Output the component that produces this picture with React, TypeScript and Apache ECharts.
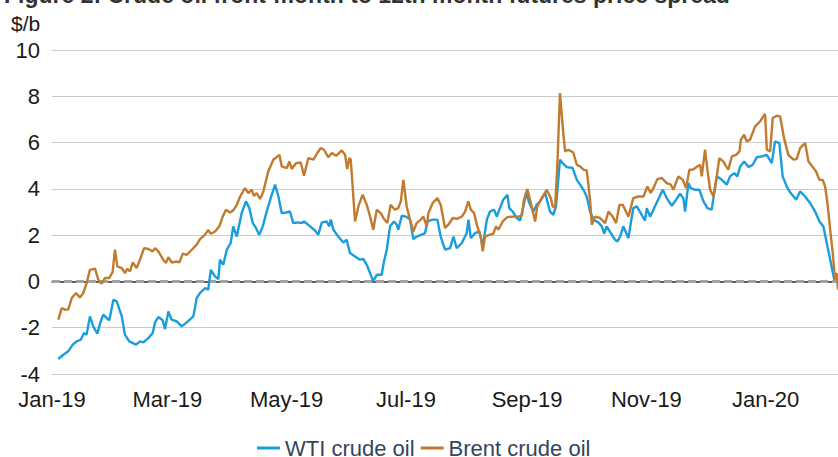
import React, { useEffect, useRef } from "react";
import * as echarts from "echarts";

// x values: days since 1 Jan 2019
const brentDay = [3.2,5.0,6.6,8.3,10.1,12.3,14.3,16.0,17.7,19.4,22.0,23.7,25.4,27.1,29.3,31.0,32.2,33.4,35.7,37.3,38.5,39.9,41.3,43.3,45.0,47.1,49.3,51.5,52.7,54.4,56.9,58.3,59.5,61.2,63.8,65.1,66.9,68.9,71.5,74.0,75.7,78.3,79.9,81.2,83.4,85.6,87.3,89.0,91.0,92.7,94.5,96.2,98.7,100.4,102.1,103.3,104.7,106.4,108.1,110.6,113.2,116.3,117.5,120.1,121.4,122.6,124.8,127.2,128.9,131.1,133.7,135.7,137.4,139.1,141.3,143.1,145.3,148.2,149.9,151.0,152.1,152.8,155.0,156.7,158.9,161.0,162.7,164.3,166.1,168.1,169.8,171.5,173.2,175.4,177.1,178.4,179.7,181.4,183.1,184.8,186.5,188.6,189.9,191.7,192.5,194.7,197.1,198.8,201.0,202.7,205.0,207.0,209.6,211.3,212.9,214.2,215.9,217.5,219.3,220.3,221.5,224.0,225.7,227.1,228.3,230.5,232.9,236.0,238.5,240.3,241.4,243.1,244.5,247.1,248.2,250.5,253.0,255.1,256.1,257.3,258.5,259.8,261.2,262.4,264.1,266.6,268.4,270.1,271.8,273.5,275.2,276.1,277.7,280.3,282.9,284.6,286.8,288.5,290.2,291.9,294.8,297.3,299.9,302.5,304.5,306.2,307.6,309.6,311.9,314.4,316.5,317.8,320.4,322.6,324.3,326.0,327.7,330.1,331.5,332.3,334.0,335.2,336.6,338.3,340.0,341.3,343.4,344.8,345.9,347.7,349.9,351.6,352.3,354.0,355.3,357.0,359.6,362.1,364.7,365.6,367.3,368.6,370.7,372.4,374.4,376.6,379.2,380.9,382.6,385.2,386.9,389.1,390.8,392.5,394.2,395.4,396.6,398.0,399.3,400.5,401.4,402.0];
const brentValue = [-1.65,-1.15,-1.22,-1.22,-0.72,-0.5,-0.7,-0.5,-0.07,0.5,0.55,0.07,-0.1,0.15,0.15,0.4,1.37,0.65,0.58,0.36,0.54,0.43,0.82,0.58,0.94,1.44,1.4,1.3,1.44,1.3,0.94,0.8,1.05,0.82,0.86,0.82,1.2,1.15,1.37,1.59,1.83,2.02,2.23,2.06,2.16,2.38,2.8,3.1,2.98,3.07,3.3,3.67,4.03,3.82,3.96,3.7,3.82,3.56,3.89,4.75,5.26,5.47,4.97,4.9,5.18,4.86,5.11,5.14,4.57,5.33,5.26,5.55,5.76,5.69,5.37,5.55,5.43,5.66,5.47,4.86,5.33,5.26,2.59,3.24,3.75,3.31,2.8,2.23,3.1,2.95,2.7,2.52,3.31,3.1,3.17,3.46,4.39,3.24,2.67,2.16,2.52,2.67,2.8,2.38,2.95,3.39,3.6,3.31,2.31,2.45,2.74,2.7,2.8,3.02,3.46,3.1,2.95,2.38,1.94,1.3,1.94,2.02,2.06,2.38,2.23,2.59,2.78,2.8,2.8,2.84,3.53,3.99,3.53,2.59,3.24,3.6,3.96,3.6,3.24,3.17,5.11,8.14,6.7,5.62,5.69,5.57,5.04,4.97,4.83,4.8,3.53,2.45,2.8,2.74,2.52,3.02,2.8,2.52,3.31,3.31,2.8,3.6,3.67,3.67,4.1,3.82,4.03,4.42,4.47,4.25,4.18,3.96,4.54,4.39,4.03,4.83,4.83,4.97,5.04,4.54,5.69,4.83,3.96,3.67,4.54,5.33,5.18,4.97,4.83,5.4,5.47,5.62,6.12,6.34,6.05,6.12,6.7,6.91,7.24,5.69,5.62,7.06,7.16,7.13,6.19,5.47,5.26,5.29,5.76,5.98,5.18,4.94,4.75,4.39,4.39,4.1,3.39,2.23,1.23,0.07,0.36,-0.36];

const wtiDay = [3.2,5.8,8.3,10.6,12.6,14.7,16.4,17.7,19.4,21.1,23.2,24.6,26.2,28.0,29.3,31.4,33.1,35.7,37.3,39.5,43.0,45.0,46.7,49.3,51.5,52.7,54.4,56.6,57.8,59.5,61.2,63.8,66.3,68.9,72.3,74.0,75.7,78.3,79.9,81.2,83.4,85.1,85.9,87.6,89.4,91.4,92.7,94.5,97.0,99.2,100.9,102.7,104.3,106.0,107.8,109.8,112.4,114.1,115.8,117.5,119.7,121.7,123.4,126.0,127.7,128.9,132.0,134.5,136.2,138.0,140.5,141.8,142.6,143.9,146.4,149.0,150.7,152.4,155.0,157.5,159.2,161.0,162.7,164.3,166.1,168.6,169.8,171.2,172.9,174.9,176.3,177.1,178.9,181.1,183.1,184.8,186.5,189.1,190.8,192.0,194.7,197.1,198.8,201.0,203.6,205.3,207.0,209.6,212.1,213.0,214.2,216.4,218.6,220.3,222.4,224.0,226.1,227.5,228.8,230.8,232.9,233.9,235.6,237.7,239.4,241.1,242.5,244.1,246.2,247.9,249.6,252.2,254.7,256.4,257.8,259.8,261.2,263.3,266.3,268.4,270.1,271.8,273.5,275.2,276.9,279.4,281.2,282.4,283.7,285.8,288.0,289.2,290.6,292.2,294.8,297.3,299.1,301.1,303.3,304.2,305.9,307.6,309.6,312.4,314.4,317.0,319.2,321.2,322.9,323.8,325.5,326.7,328.9,331.1,333.2,335.2,337.4,340.0,342.6,345.1,346.8,348.9,350.5,352.0,354.0,356.2,358.4,360.5,363.0,365.6,368.1,369.8,372.0,373.7,375.8,377.8,380.6,382.6,385.2,387.7,390.3,392.5,394.5,396.6,398.4,400.1];
const wtiValue = [-3.35,-3.17,-3.02,-2.73,-2.59,-2.52,-2.23,-2.3,-1.51,-1.94,-2.26,-1.8,-1.44,-1.58,-1.68,-0.79,-0.86,-1.51,-2.3,-2.59,-2.73,-2.59,-2.63,-2.45,-2.23,-1.77,-1.54,-1.68,-2.06,-1.3,-1.65,-1.73,-1.94,-1.77,-1.51,-0.72,-0.5,-0.29,-0.36,0.5,0.22,0.1,0.94,0.72,1.37,1.66,2.38,1.94,2.95,3.46,3.17,2.52,2.31,2.02,2.38,3.02,3.75,4.18,3.67,2.95,2.98,3.02,2.52,2.55,2.52,2.59,2.38,2.2,2.02,2.55,2.59,2.38,2.67,2.23,1.94,1.68,1.8,1.23,1.08,0.94,0.97,0.72,0.36,0.0,0.29,0.29,0.86,1.37,2.38,2.59,2.45,2.23,2.84,2.8,2.67,1.83,1.94,2.02,2.09,2.59,2.67,2.67,1.94,1.37,1.44,1.94,1.44,1.66,2.09,2.67,1.87,2.09,2.16,1.51,2.67,3.02,3.1,2.8,3.1,3.53,3.75,3.17,3.02,2.74,2.63,3.24,3.82,3.39,3.02,3.31,3.46,3.82,3.02,2.88,3.24,5.26,5.11,4.94,4.9,4.39,4.18,3.96,3.67,3.02,2.67,2.55,2.38,2.06,2.38,2.09,1.8,1.73,1.94,2.38,1.87,3.17,3.24,2.95,2.63,3.17,2.8,3.1,3.46,3.96,3.6,3.27,3.53,3.79,3.6,3.02,4.25,4.03,3.96,3.96,3.46,3.17,3.1,4.54,4.39,4.18,4.54,4.68,4.54,4.97,5.18,4.94,5.04,5.37,5.4,5.47,5.11,6.05,5.98,4.54,4.1,3.82,3.53,3.89,3.67,3.39,3.02,2.59,2.38,1.51,0.79,0.07];

const tickDays = [0, 59, 120, 181, 243, 304, 365];
const tickLabels = ["Jan-19", "Mar-19", "May-19", "Jul-19", "Sep-19", "Nov-19", "Jan-20"];
const seriesNames = ["WTI crude oil", "Brent crude oil"];
const titleText = "Figure 2: Crude oil front-month to 12th month futures price spread";

const FONT = "'Liberation Sans', Arial, sans-serif";

export default function App() {
  const ref = useRef<HTMLDivElement>(null);
  useEffect(() => {
    if (!ref.current) return;
    const chart = echarts.init(ref.current, null, { renderer: "svg" });
    const pair = (xs: number[], ys: number[]) => xs.map((x, i) => [x, ys[i]]);
    chart.setOption({
      animation: false,
      backgroundColor: "#ffffff",
      textStyle: { fontFamily: FONT },
      graphic: [
        {
          type: "text",
          left: 4,
          top: -17,
          style: { text: titleText, font: `bold 23px ${FONT}`, fill: "#333" },
        },
        {
          type: "text",
          left: 11,
          top: 13,
          style: { text: "$/b", font: `21px ${FONT}`, fill: "#1a1a1a" },
        },
      ],
      legend: {
        top: 437,
        left: 257,
        padding: 0,
        itemWidth: 23,
        itemHeight: 3,
        itemGap: 6,
        icon: "rect",
        textStyle: { fontSize: 22, color: "#34455e", fontFamily: FONT },
        data: seriesNames,
      },
      grid: { left: 52, right: 0, top: 50, bottom: 83 },
      xAxis: {
        type: "value",
        min: 0,
        max: 402,
        axisLine: { show: true, lineStyle: { color: "#333", width: 1.5 } },
        axisTick: { show: false },
        splitLine: { show: false },
        axisLabel: {
          customValues: tickDays,
          formatter: (v: number) => {
            const i = tickDays.indexOf(Math.round(v));
            return i >= 0 ? tickLabels[i] : "";
          },
          fontSize: 22,
          color: "#1a1a1a",
          margin: 14,
          fontFamily: FONT,
        },
      },
      yAxis: {
        type: "value",
        min: -4,
        max: 10,
        interval: 2,
        axisLine: { show: false },
        axisTick: { show: false },
        splitLine: { lineStyle: { color: "#cccccc", width: 1 } },
        axisLabel: { fontSize: 22, color: "#1a1a1a", margin: 12, fontFamily: FONT },
      },
      series: [
        {
          name: seriesNames[0],
          type: "line",
          data: pair(wtiDay, wtiValue),
          showSymbol: false,
          symbol: "none",
          lineStyle: { color: "#1b9ddb", width: 2.4 },
          itemStyle: { color: "#1b9ddb" },
          markLine: {
            silent: true,
            symbol: "none",
            label: { show: false },
            lineStyle: { type: [8, 4], color: "#a3a3a3", width: 3 },
            data: [{ yAxis: 0 }],
            z: 1,
          },
        },
        {
          name: seriesNames[1],
          type: "line",
          data: pair(brentDay, brentValue),
          showSymbol: false,
          symbol: "none",
          lineStyle: { color: "#c27a2e", width: 2.4 },
          itemStyle: { color: "#c27a2e" },
        },
      ],
    });
    return () => chart.dispose();
  }, []);
  return <div ref={ref} style={{ width: 838, height: 457, position: "absolute", left: 0, top: 0 }} />;
}
